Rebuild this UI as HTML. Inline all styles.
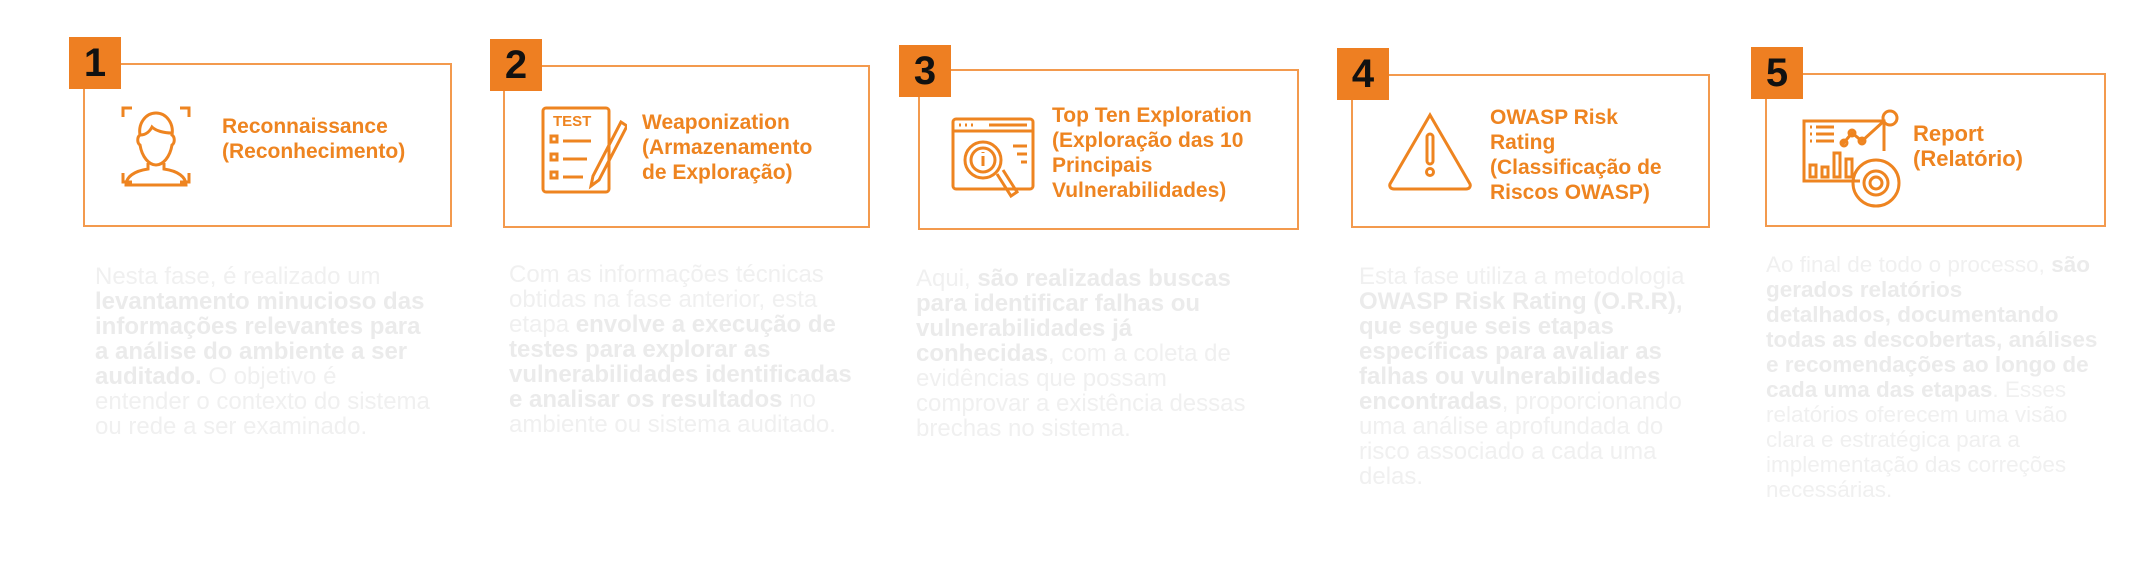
<!DOCTYPE html>
<html><head><meta charset="utf-8">
<style>
body{margin:0;width:2150px;height:562px;background:#fff;position:relative;overflow:hidden;font-family:"Liberation Sans",sans-serif}
.box{position:absolute;border:2px solid #F39A4E;box-sizing:border-box}
.num{position:absolute;width:52px;height:52px;background:#EE7F22;color:#111;font-weight:bold;font-size:40px;line-height:52px;text-align:center}
.t{position:absolute;color:#EE8420;font-weight:bold;font-size:21px;line-height:25px;white-space:nowrap}
.d{position:absolute;color:#f0f0f0;font-size:24px;line-height:25px;white-space:nowrap}
.d b{color:#ebebeb}
svg{position:absolute}
</style></head><body>

<!-- 1 -->
<div class="box" style="left:83px;top:63px;width:369px;height:164px"></div>
<div class="num" style="left:69px;top:37px">1</div>
<svg style="left:120px;top:105px" width="72" height="82" viewBox="0 0 72 82" fill="none" stroke="#EE8420" stroke-width="3">
<path d="M3 12V3h9M60 3h9v9M3 68v9h9M69 68v9h-9"/>
<path d="M20 30c-2-12 6-22 16-22s18 10 16 22c3 2 3 8 0 10c-2 12-9 20-16 20s-14-8-16-20c-3-2-3-8 0-10z"/>
<path d="M20 30c6 0 10-4 12-8c4 4 12 6 20 6"/>
<path d="M28 58v6c-14 2-22 8-22 16h60c0-8-8-14-22-16v-6"/>
</svg>
<div class="t" style="left:222px;top:114px">Reconnaissance<br>(Reconhecimento)</div>
<div class="d" style="left:95px;top:264px">Nesta fase, é realizado um<br><b>levantamento minucioso das<br>informações relevantes para<br>a análise do ambiente a ser<br>auditado.</b> O objetivo é<br>entender o contexto do sistema<br>ou rede a ser examinado.</div>

<!-- 2 -->
<div class="box" style="left:503px;top:65px;width:367px;height:163px"></div>
<div class="num" style="left:490px;top:39px">2</div>
<svg style="left:541px;top:106px" width="86" height="88" viewBox="0 0 86 88" fill="none" stroke="#EE8420" stroke-width="3">
<rect x="2" y="2" width="66" height="84" rx="3"/>
<text x="12" y="20" font-family="Liberation Sans" font-weight="bold" font-size="15" fill="#EE8420" stroke="none">TEST</text>
<rect x="10" y="30" width="6" height="6"/><path d="M22 35h28"/>
<rect x="10" y="48" width="6" height="6"/><path d="M22 53h24"/>
<rect x="10" y="66" width="6" height="6"/><path d="M22 71h20"/>
<path d="M80 16l-28 54-2 10 8-6 28-54z"/>
</svg>
<div class="t" style="left:642px;top:110px">Weaponization<br>(Armazenamento<br>de Exploração)</div>
<div class="d" style="left:509px;top:262px">Com as informações técnicas<br>obtidas na fase anterior, esta<br>etapa <b>envolve a execução de<br>testes para explorar as<br>vulnerabilidades identificadas<br>e analisar os resultados</b> no<br>ambiente ou sistema auditado.</div>

<!-- 3 -->
<div class="box" style="left:918px;top:69px;width:381px;height:161px"></div>
<div class="num" style="left:899px;top:45px">3</div>
<svg style="left:951px;top:116px" width="86" height="88" viewBox="0 0 86 88" fill="none" stroke="#EE8420" stroke-width="3">
<rect x="2" y="3" width="80" height="70" rx="3"/><path d="M2 15h80M38 9h38"/>
<path d="M8 9h2M14 9h2M20 9h2"/>
<circle cx="32" cy="44" r="18"/><circle cx="32" cy="44" r="12"/>
<path d="M32 40v10M32 36v1"/>
<path d="M46 58l14 22 6-4-14-22"/>
<path d="M62 30h14M66 38h10M70 46h6"/>
</svg>
<div class="t" style="left:1052px;top:103px">Top Ten Exploration<br>(Exploração das 10<br>Principais<br>Vulnerabilidades)</div>
<div class="d" style="left:916px;top:266px"><span>Aqui, </span><b>são realizadas buscas<br>para identificar falhas ou<br>vulnerabilidades já<br>conhecidas</b>, com a coleta de<br>evidências que possam<br>comprovar a existência dessas<br>brechas no sistema.</div>

<!-- 4 -->
<div class="box" style="left:1351px;top:74px;width:359px;height:154px"></div>
<div class="num" style="left:1337px;top:48px">4</div>
<svg style="left:1386px;top:112px" width="88" height="80" viewBox="0 0 88 80" fill="none" stroke="#EE8420" stroke-width="3">
<path d="M44 3L84 72c1 3-1 5-4 5H8c-3 0-5-2-4-5z"/>
<rect x="41" y="22" width="6" height="30" rx="3"/><circle cx="44" cy="60" r="3.5"/>
</svg>
<div class="t" style="left:1490px;top:105px">OWASP Risk<br>Rating<br>(Classificação de<br>Riscos OWASP)</div>
<div class="d" style="left:1359px;top:264px">Esta fase utiliza a metodologia<br><b>OWASP Risk Rating (O.R.R),<br>que segue seis etapas<br>específicas para avaliar as<br>falhas ou vulnerabilidades<br>encontradas</b>, proporcionando<br>uma análise aprofundada do<br>risco associado a cada uma<br>delas.</div>

<!-- 5 -->
<div class="box" style="left:1765px;top:73px;width:341px;height:154px"></div>
<div class="num" style="left:1751px;top:47px">5</div>
<svg style="left:1802px;top:109px" width="100" height="100" viewBox="0 0 100 100" fill="none" stroke="#EE8420" stroke-width="3">
<path d="M58 72H2V12h80v30"/>
<path d="M8 18h2M14 18h18M8 25h2M14 25h18M8 32h2M14 32h18"/>
<circle cx="88" cy="9" r="7"/><path d="M40 36l10-12 10 8 22-20"/><circle cx="42" cy="34" r="3"/><circle cx="50" cy="24" r="3"/><circle cx="60" cy="32" r="3"/>
<rect x="8" y="56" width="6" height="12"/><rect x="20" y="58" width="6" height="10"/><rect x="32" y="44" width="6" height="24"/><rect x="44" y="50" width="6" height="18"/>
<circle cx="74" cy="74" r="23"/><circle cx="74" cy="74" r="12"/><circle cx="74" cy="74" r="6"/>
</svg>
<div class="t" style="left:1913px;top:121px;font-size:22px">Report<br>(Relatório)</div>
<div class="d" style="left:1766px;top:252px;font-size:22.5px">Ao final de todo o processo, <b>são<br>gerados relatórios<br>detalhados, documentando<br>todas as descobertas, análises<br>e recomendações ao longo de<br>cada uma das etapas</b>. Esses<br>relatórios oferecem uma visão<br>clara e estratégica para a<br>implementação das correções<br>necessárias.</div>
</body></html>
